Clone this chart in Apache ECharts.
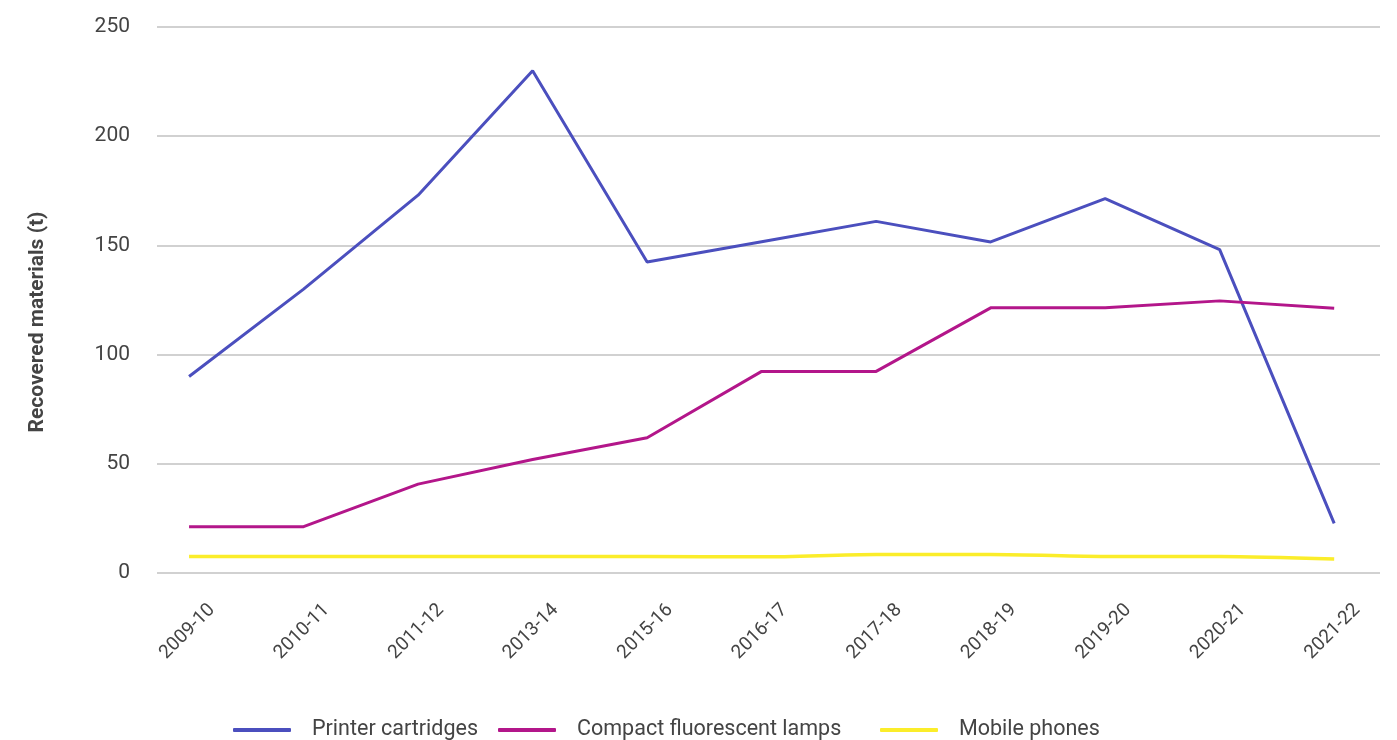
<!DOCTYPE html>
<html>
<head>
<meta charset="utf-8">
<script src="https://cdn.jsdelivr.net/npm/echarts@6/dist/echarts.min.js"></script>
<style>
html,body{margin:0;padding:0;background:#fff;}
#chart{width:1397px;height:740px;}
</style>
</head>
<body>
<div id="chart"></div>
<script>
var categories = ['2009-10','2010-11','2011-12','2013-14','2015-16','2016-17','2017-18','2018-19','2019-20','2020-21','2021-22'];
var printerCartridges = [90, 130, 173, 230, 142.4, 151.7, 161, 151.6, 171.4, 148.1, 22.7];
var compactFluorescentLamps = [21.2, 21.2, 40.7, 52, 61.9, 92.3, 92.3, 121.4, 121.4, 124.6, 121.2];
var mobilePhones = [7.5, 7.5, 7.5, 7.5, 7.5, 7.4, 8.5, 8.5, 7.6, 7.5, 6.4];
var yTicks = [0, 50, 100, 150, 200, 250];
var seriesNames = ['Printer cartridges','Compact fluorescent lamps','Mobile phones'];

function pairs(arr){ return arr.map(function(v,i){ return [i, v]; }); }
var labelPositions = categories.map(function(c,i){ return i + 0.2; });

var chart = echarts.init(document.getElementById('chart'), null, {renderer:'canvas'});
var font = 'Roboto, "Liberation Sans", sans-serif';
var legendBase = {
  top: 714,
  icon: 'roundRect',
  itemWidth: 58,
  itemHeight: 4,
  itemGap: 20,
  textStyle: {color: '#444444', fontFamily: font, fontSize: 21.5, padding: [0,0,0,16]}
};
chart.setOption({
  animation: false,
  backgroundColor: '#ffffff',
  grid: {left: 157, right: 17, top: 27, bottom: 167, containLabel: false},
  xAxis: {
    type: 'value',
    min: -0.28,
    max: 10.4,
    axisLine: {show: false},
    axisTick: {show: false},
    splitLine: {show: false},
    axisLabel: {
      customValues: labelPositions,
      rotate: 45,
      margin: 34,
      color: '#444444',
      fontFamily: font,
      fontSize: 19,
      formatter: function(v){ return categories[Math.round(v)]; }
    }
  },
  yAxis: {
    type: 'value',
    min: yTicks[0],
    max: yTicks[yTicks.length-1],
    interval: 50,
    axisLine: {show: false},
    axisTick: {show: false},
    splitLine: {lineStyle: {color: '#c2c2c2', width: 1.5}},
    axisLabel: {color: '#444444', fontFamily: font, fontSize: 21, margin: 27}
  },
  graphic: [{
    type: 'text',
    x: 38, y: 322,
    rotation: Math.PI/2,
    style: {
      text: 'Recovered materials (t)',
      fill: '#444444',
      font: 'bold 21px ' + font,
      textAlign: 'center',
      textVerticalAlign: 'middle'
    }
  }],
  legend: [
    Object.assign({left: 228, data: [seriesNames[0], seriesNames[1]]}, legendBase),
    Object.assign({left: 875, data: [seriesNames[2]]}, legendBase)
  ],
  series: [
    {name: seriesNames[0], type: 'line', data: pairs(printerCartridges), showSymbol: false, symbol: 'none',
     lineStyle: {color: '#4b4fbe', width: 3}, itemStyle: {color: '#4b4fbe'}},
    {name: seriesNames[1], type: 'line', data: pairs(compactFluorescentLamps), showSymbol: false, symbol: 'none',
     lineStyle: {color: '#b3168a', width: 3}, itemStyle: {color: '#b3168a'}},
    {name: seriesNames[2], type: 'line', data: pairs(mobilePhones), showSymbol: false, symbol: 'none', smooth: 0.3,
     lineStyle: {color: '#fbed2a', width: 3.5}, itemStyle: {color: '#fbed2a'}}
  ]
});
</script>
</body>
</html>
